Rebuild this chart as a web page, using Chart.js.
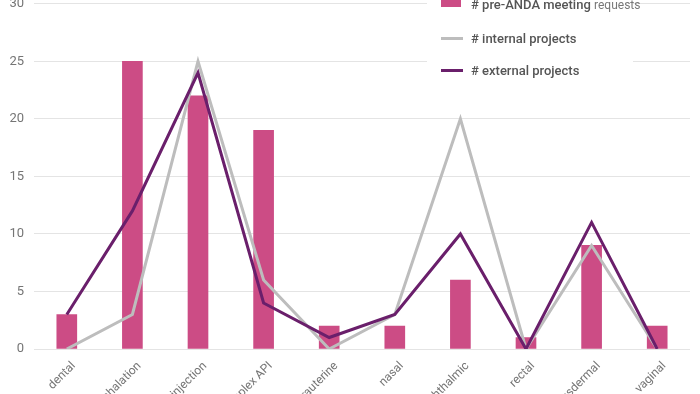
<!DOCTYPE html>
<html>
<head>
<meta charset="utf-8">
<script src="https://cdn.jsdelivr.net/npm/chart.js@4"></script>
<style>
    html, body { margin: 0; padding: 0; background: #fff; overflow: hidden; }
    body { width: 700px; height: 394px; position: relative; font-family: Roboto, sans-serif; }
    #wrap { position: absolute; left: 0; top: -14px; width: 700px; height: 423px; }
    #legend {
        position: absolute; left: 427px; top: 0; width: 206px; height: 84px;
        background: #fff; color: #555; font-size: 13px; font-weight: 500;
    }
    .item { position: absolute; left: 14px; height: 16px; line-height: 16px; }
    .item span { position: absolute; left: 30px; white-space: nowrap; }
    .sw { position: absolute; left: 0; }
</style>
</head>
<body>
<div id="wrap"><canvas id="chart"></canvas></div>
<div id="legend">
    <div class="item" style="top:-3px"><div class="sw" style="top:-6px;width:20px;height:16px;background:#cc4c85"></div><span># pre-ANDA meeting <span style="position:static;font-weight:400;font-size:12px;color:#777">requests</span></span></div>
    <div class="item" style="top:31px"><div class="sw" style="top:6px;width:22px;height:3px;background:#bdbdbd"></div><span># internal projects</span></div>
    <div class="item" style="top:63px"><div class="sw" style="top:6px;width:22px;height:3px;background:#6a1f6b"></div><span># external projects</span></div>
</div>
<script>
// ===== Data =====
const categories = ["dental", "inhalation", "injection", "complex API", "intrauterine",
    "nasal", "ophthalmic", "rectal", "transdermal", "vaginal"];
const meetingRequests = [3, 25, 22, 19, 2, 2, 6, 1, 9, 2];
const internalProjects = [0, 3, 25, 6, 0, 3, 20, 0, 9, 0];
const externalProjects = [3, 12, 24, 4, 1, 3, 10, 0, 11, 0];
const yTicks = [0, 5, 10, 15, 20, 25, 30];

const ctx = document.getElementById("chart").getContext("2d");

new Chart(ctx, {
    type: "bar",
    data: {
        labels: categories,
        datasets: [
            {
                type: "line",
                label: "# external projects",
                data: externalProjects,
                borderColor: "#6a1f6b",
                borderWidth: 3,
                pointRadius: 0,
                tension: 0,
                order: 0
            },
            {
                type: "line",
                label: "# internal projects",
                data: internalProjects,
                borderColor: "#bdbdbd",
                borderWidth: 3,
                pointRadius: 0,
                tension: 0,
                order: 1
            },
            {
                type: "bar",
                label: "# pre-ANDA meeting requests",
                data: meetingRequests,
                backgroundColor: "#cc4c85",
                barThickness: 20,
                order: 2
            }
        ]
    },
    options: {
        responsive: true,
        maintainAspectRatio: false,
        animation: false,
        layout: { padding: { left: 0, right: 10, top: 0, bottom: 0 } },
        plugins: {
            legend: { display: false },
            tooltip: { enabled: false }
        },
        scales: {
            x: {
                grid: { display: false },
                border: { display: false },
                ticks: {
                    minRotation: 45,
                    maxRotation: 45,
                    autoSkip: false,
                    padding: 2,
                    labelOffset: 7,
                    color: "#757575",
                    font: { family: "Roboto", size: 12 }
                },
                afterFit: (axis) => { axis.height = 60; }
            },
            y: {
                min: 0,
                max: 30,
                afterBuildTicks: (axis) => { axis.ticks = yTicks.map(v => ({ value: v })); },
                grid: { color: "#e4e4e4", drawTicks: false },
                border: { display: false },
                ticks: {
                    padding: 10,
                    color: "#757575",
                    font: { family: "Roboto", size: 13 }
                },
                afterFit: (axis) => { axis.width = 34; }
            }
        }
    }
});
</script>
</body>
</html>
